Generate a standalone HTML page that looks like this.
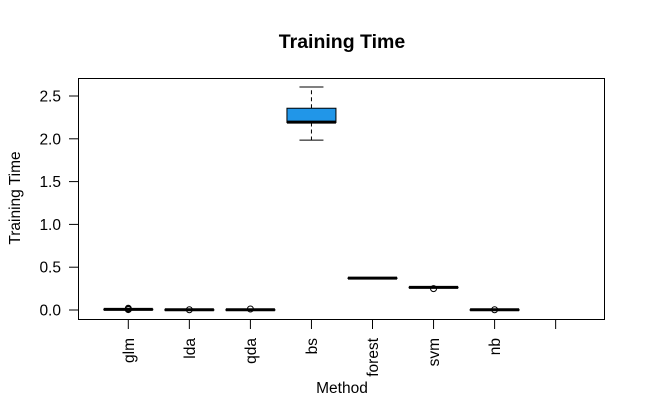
<!DOCTYPE html>
<html><head><meta charset="utf-8"><style>
body{margin:0;background:#fff}
svg{display:block;font-family:"Liberation Sans",Arial,sans-serif}
</style></head><body>
<svg id="chart" width="646" height="417" viewBox="0 0 646 417">
<text x="342" y="48" text-anchor="middle" font-size="19.5" font-weight="bold">Training Time</text>
<text transform="translate(20,198) rotate(-90)" text-anchor="middle" font-size="15.5">Training Time</text>
<text x="342" y="393" text-anchor="middle" font-size="15.5">Method</text>
<rect x="78.5" y="78.5" width="526" height="241" fill="none" stroke="#000" stroke-width="1"/>
<g id="marks"></g>
</svg>
<script>
const categories = ["glm","lda","qda","bs","forest","svm","nb",""];
const whiskLo = [0.005,0.002,0.002,1.985,0.37,0.262,0.002,null];
const q1 =      [0.007,0.003,0.003,2.19,0.37,0.262,0.003,null];
const med =     [0.008,0.003,0.003,2.195,0.372,0.264,0.003,null];
const q3 =      [0.009,0.004,0.004,2.357,0.374,0.266,0.004,null];
const whiskHi = [0.011,0.005,0.005,2.605,0.374,0.266,0.005,null];
const outliers = [[0.005,0.012,0.02],[0.003],[0.012],[],[],[0.25],[0.003],[]];
const yTicks = [0,0.5,1,1.5,2,2.5];
const yTickLabels = ["0.0","0.5","1.0","1.5","2.0","2.5"];

const NS="http://www.w3.org/2000/svg";
const g=document.getElementById('marks');
function y(v){return 310-v*85.6;}
function x(i){return 128.3+i*61.05;}
function mk(t,a){const e=document.createElementNS(NS,t);for(const k in a)e.setAttribute(k,a[k]);g.appendChild(e);return e;}
yTicks.forEach((v,i)=>{
  const l=mk('line',{x1:69,x2:78.5,y1:y(v),y2:y(v),stroke:'#000'});
  
  
  const t=mk('text',{x:61,y:y(v)+5.5,'text-anchor':'end','font-size':15.5});
  
  
  t.textContent=yTickLabels[i];
});
categories.forEach((c,i)=>{
  const cx=x(i);
  const tk=mk('line',{x1:cx,x2:cx,y1:319.5,y2:329,stroke:'#000'});
  
  
  if(c){
    const t=mk('text',{transform:`translate(${cx+5.5},338) rotate(-90)`,'text-anchor':'end','font-size':15.5});
    
    
    t.textContent=c;
  }
  if(med[i]==null)return;
  const hw=24.5;
  const dash={stroke:'#000','stroke-dasharray':'4,3'};
  const w1=mk('line',Object.assign({x1:cx,x2:cx,y1:y(q3[i]),y2:y(whiskHi[i])},dash));
  
  
  const w2=mk('line',Object.assign({x1:cx,x2:cx,y1:y(q1[i]),y2:y(whiskLo[i])},dash));
  
  
  [whiskHi[i],whiskLo[i]].forEach(v=>{
    const cap=mk('line',{x1:cx-12,x2:cx+12,y1:y(v),y2:y(v),stroke:'#000'});
    
    
  });
  const bx=mk('rect',{x:cx-hw,y:y(q3[i]),width:hw*2,height:Math.max(0.5,y(q1[i])-y(q3[i])),fill:'#2196e8',stroke:'#000'});
  
  
  const m=mk('line',{x1:cx-hw,x2:cx+hw,y1:y(med[i]),y2:y(med[i]),stroke:'#000','stroke-width':3});
  
  
  outliers[i].forEach(v=>{
    const o=mk('circle',{cx:cx,cy:y(v),r:3,fill:'none',stroke:'#000'});
    
    
  });
});
</script>
</body></html>
